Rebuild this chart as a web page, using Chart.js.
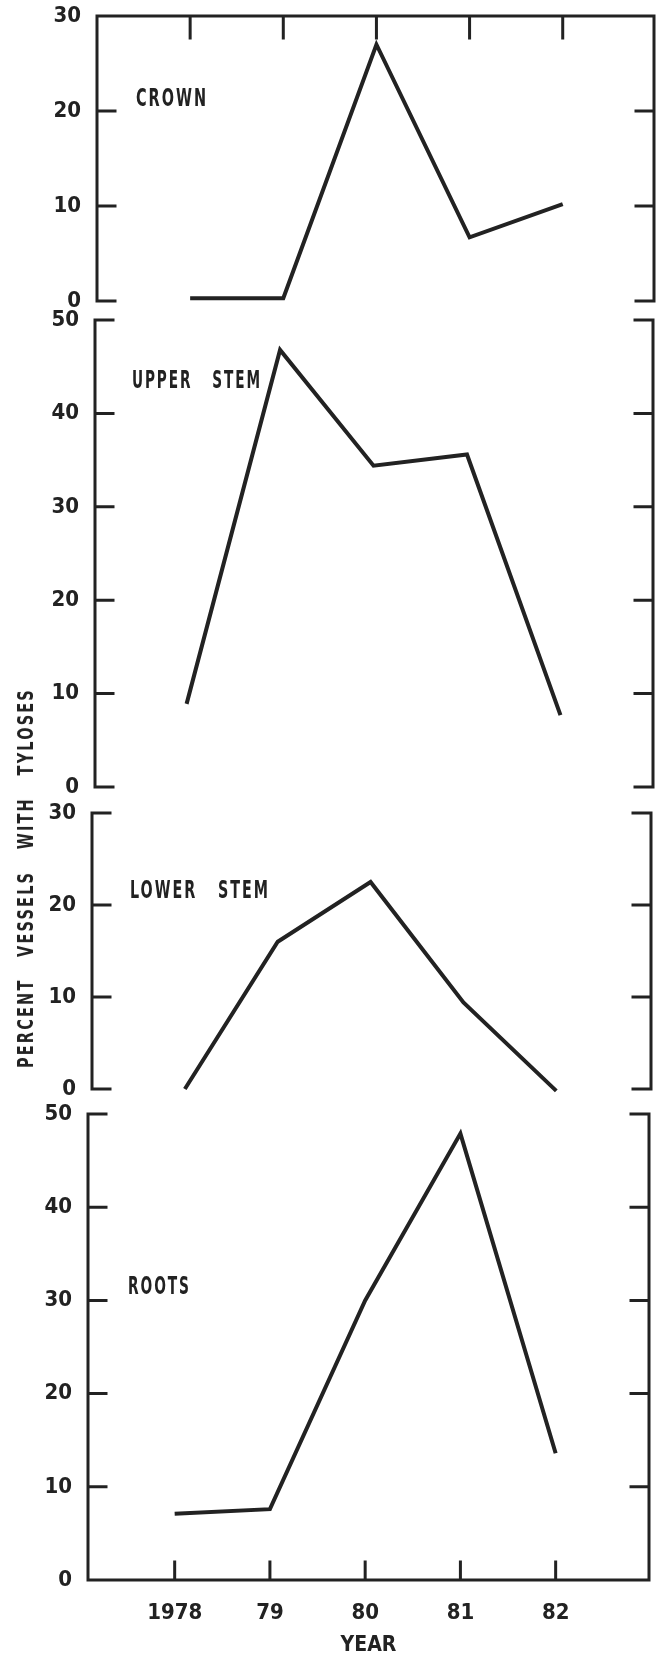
<!DOCTYPE HTML>
<html>

<head>
  <meta charset="utf-8" />
  <script src="https://cdn.jsdelivr.net/npm/chart.js@4.4.1/dist/chart.umd.min.js"></script>
  <style>
    body {
      margin: 0;
      background: #fff;
    }

    #page {
      position: relative;
      width: 664px;
      height: 1658px;
      overflow: hidden;
    }

    canvas {
      position: absolute;
      left: 0;
    }

    #ytitle {
      position: absolute;
      left: 26px;
      top: 878px;
      transform: translate(-50%, -50%) rotate(-90deg);
      white-space: pre;
      font-family: 'Liberation Sans Narrow', 'DejaVu Sans Condensed', sans-serif;
      font-weight: bold;
      font-size: 22px;
      line-height: 1;
      letter-spacing: 3px;
      color: #222;
    }
  </style>
</head>

<body>
  <div id="page">
    <canvas id="chart-crown" width="664" height="320" style="top:0px"></canvas>
    <canvas id="chart-upper" width="664" height="500" style="top:304px"></canvas>
    <canvas id="chart-lower" width="664" height="310" style="top:797px"></canvas>
    <canvas id="chart-roots" width="664" height="560" style="top:1098px"></canvas>
    <div id="ytitle">PERCENT   VESSELS   WITH   TYLOSES</div>
  </div>
</body>
<script>
  // data
  var years = [1978, 1979, 1980, 1981, 1982];
  var yearLabels = ['1978', '79', '80', '81', '82'];
  var crown = [0.3, 0.3, 27, 6.7, 10.2];
  var upperStem = [8.9, 46.8, 34.4, 35.6, 7.7];
  var lowerStem = [0, 16, 22.5, 9.4, -0.2];
  var roots = [7.1, 7.6, 30, 47.9, 13.6];
  var ticks30 = [0, 10, 20, 30];
  var ticks50 = [0, 10, 20, 30, 40, 50];

  var ink = '#222';
  var family = "'Liberation Sans Narrow', 'DejaVu Sans Condensed', sans-serif";

  // frame: side axes with inward ticks, optional top/bottom border with year ticks, panel name
  var framePlugin = {
    id: 'frame',
    afterDatasetsDraw: function (chart, args, o) {
      var ctx = chart.ctx;
      var a = chart.chartArea;
      var x = chart.scales.x;
      var y = chart.scales.y;
      ctx.save();
      ctx.strokeStyle = ink;
      ctx.lineWidth = 3;
      ctx.lineCap = 'square';
      ctx.beginPath();
      ctx.moveTo(a.left, a.top);
      ctx.lineTo(a.left, a.bottom);
      ctx.moveTo(a.right, a.top);
      ctx.lineTo(a.right, a.bottom);
      y.ticks.forEach(function (t) {
        var py = y.getPixelForValue(t.value);
        ctx.moveTo(a.left, py);
        ctx.lineTo(a.left + 18, py);
        ctx.moveTo(a.right, py);
        ctx.lineTo(a.right - 18, py);
      });
      if (o.top) {
        ctx.moveTo(a.left, a.top);
        ctx.lineTo(a.right, a.top);
        years.forEach(function (v) {
          var px = x.getPixelForValue(v);
          ctx.moveTo(px, a.top);
          ctx.lineTo(px, a.top + 22);
        });
      }
      if (o.bottom) {
        ctx.moveTo(a.left, a.bottom);
        ctx.lineTo(a.right, a.bottom);
        years.forEach(function (v) {
          var px = x.getPixelForValue(v);
          ctx.moveTo(px, a.bottom);
          ctx.lineTo(px, a.bottom - 18);
        });
      }
      ctx.stroke();

      // panel name, squeezed to the width it has in the figure
      ctx.fillStyle = ink;
      ctx.font = 'bold 24px ' + family;
      ctx.letterSpacing = '3px';
      ctx.textBaseline = 'middle';
      ctx.textAlign = 'left';
      var w = ctx.measureText(o.label).width - 3;
      ctx.translate(a.left + o.dx, a.top + o.dy);
      ctx.scale(o.w / w, 1);
      ctx.fillText(o.label, 0, 0);
      ctx.restore();
    }
  };

  function initPanel(id, values, yTicks, p) {
    var ctx = document.getElementById(id);
    return new Chart(ctx, {
      type: 'line',
      data: {
        datasets: [{
          data: values.map(function (v, i) { return { x: years[i], y: v }; }),
          borderColor: ink,
          borderWidth: 4,
          borderJoinStyle: 'miter',
          pointRadius: 0,
          tension: 0,
          fill: false,
          clip: false
        }]
      },
      options: {
        responsive: false,
        animation: false,
        devicePixelRatio: 1,
        layout: {
          padding: { top: p.top, right: p.right, bottom: p.bottom, left: 0 }
        },
        scales: {
          x: {
            type: 'linear',
            min: p.xMin,
            max: p.xMax,
            display: p.xAxis,
            afterBuildTicks: function (s) {
              s.ticks = years.map(function (v) { return { value: v }; });
            },
            afterFit: function (s) {
              if (p.xAxis) s.height = 78;
            },
            grid: { display: false, drawTicks: false },
            border: { display: false },
            ticks: {
              autoSkip: false,
              maxRotation: 0,
              padding: 20,
              color: ink,
              font: { family: family, size: 22, weight: 'bold' },
              callback: function (v, i) { return yearLabels[i]; }
            },
            title: {
              display: p.xAxis,
              text: 'YEAR',
              color: ink,
              padding: { top: 0, bottom: 0 },
              font: { family: family, size: 21, weight: 'bold' }
            }
          },
          y: {
            min: 0,
            max: yTicks[yTicks.length - 1],
            afterBuildTicks: function (s) {
              s.ticks = yTicks.map(function (v) { return { value: v }; });
            },
            afterFit: function (s) {
              s.width = p.left;
              s.paddingTop = 0;
              s.paddingBottom = 0;
            },
            grid: { display: false, drawTicks: false },
            border: { display: false },
            ticks: {
              padding: 16,
              color: ink,
              font: { family: family, size: 22, weight: 'bold' }
            }
          }
        },
        plugins: {
          legend: { display: false },
          tooltip: { enabled: false },
          frame: { label: p.label, dx: p.dx, dy: p.dy, w: p.w, top: p.topBorder, bottom: p.xAxis }
        }
      },
      plugins: [framePlugin]
    });
  }

  initPanel('chart-crown', crown, ticks30,
    { top: 16, bottom: 19, left: 97, right: 10, xMin: 1977.0, xMax: 1982.98,
      label: 'CROWN', dx: 39, dy: 84, w: 70, topBorder: true, xAxis: false });
  initPanel('chart-upper', upperStem, ticks50,
    { top: 16, bottom: 17, left: 95, right: 11, xMin: 1977.02, xMax: 1982.99,
      label: 'UPPER   STEM', dx: 37, dy: 62, w: 128, topBorder: false, xAxis: false });
  initPanel('chart-lower', lowerStem, ticks30,
    { top: 16, bottom: 18, left: 92, right: 13, xMin: 1977.0, xMax: 1983.02,
      label: 'LOWER   STEM', dx: 38, dy: 79, w: 138, topBorder: false, xAxis: false });
  initPanel('chart-roots', roots, ticks50,
    { top: 16, bottom: 0, left: 88, right: 15, xMin: 1977.09, xMax: 1982.98,
      label: 'ROOTS', dx: 40, dy: 174, w: 61, topBorder: false, xAxis: true });

  // fit the axis title to the length it has in the figure
  var yt = document.getElementById('ytitle');
  yt.style.transform = 'translate(-50%, -50%) rotate(-90deg) scaleX(' + (380 / yt.offsetWidth) + ')';
</script>

</html>
